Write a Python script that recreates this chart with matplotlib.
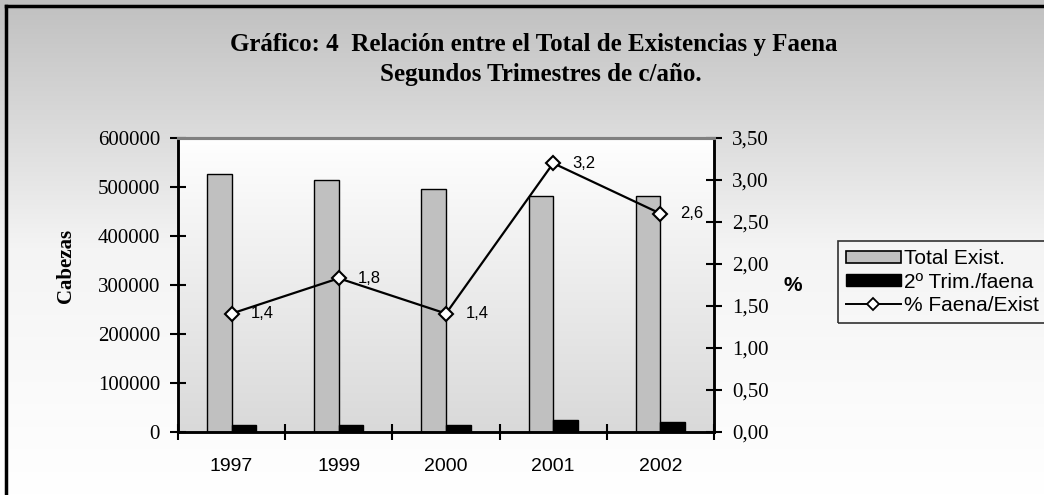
import numpy as np
import matplotlib.pyplot as plt
from matplotlib.lines import Line2D
from matplotlib.patches import Patch
from matplotlib.colors import LinearSegmentedColormap

years = ['1997', '1999', '2000', '2001', '2002']
total_exist = [527000, 515000, 495000, 481000, 482000]
trim_faena = [15000, 15000, 15000, 24000, 20000]
pct_faena = [1.41, 1.83, 1.41, 3.20, 2.60]

serif = 'Liberation Serif'
sans = 'Liberation Sans'

fig = plt.figure(figsize=(10.44, 4.95), dpi=100)

# figure background: gray at top fading to white
bg = fig.add_axes([0, 0, 1, 1], zorder=-10)
grad = np.linspace(0, 1, 256).reshape(-1, 1)
bg.imshow(grad, cmap=LinearSegmentedColormap.from_list('g', ['#c0c0c0', '#f4f4f4', '#ffffff']),
          aspect='auto', extent=[0, 1, 0, 1], origin='upper')
bg.axis('off')

# outer border (cut at right and bottom like the original)
fig.add_artist(Line2D([6 / 1044, 1.0], [1 - 5.5 / 495, 1 - 5.5 / 495], color='black', lw=2.5))
fig.add_artist(Line2D([6 / 1044, 6 / 1044], [1 - 5.5 / 495, 1 - 493 / 495], color='black', lw=2.5))

ax = fig.add_axes([178 / 1044, 1 - 432 / 495, (714 - 178) / 1044, (432 - 138) / 495])
ax.patch.set_alpha(0)
ax.imshow(grad, cmap=LinearSegmentedColormap.from_list('p', ['#ffffff', '#d9d9d9']),
          aspect='auto', extent=[0, 1, 0, 1], origin='upper', transform=ax.transAxes, zorder=0)

x = np.arange(len(years))
w = 0.23
ax.bar(x - w / 2, total_exist, w, color='#c0c0c0', edgecolor='black', lw=1, zorder=2)
ax.bar(x + w / 2, trim_faena, w, color='black', edgecolor='black', lw=1, zorder=2)
ax.set_xlim(-0.5, len(years) - 0.5)
ax.set_ylim(0, 600000)
ax.set_yticks(range(0, 600001, 100000))
ax.set_yticklabels([str(v) for v in range(0, 600001, 100000)], fontfamily=serif, fontsize=15)
ax.set_xticks(np.arange(-0.5, len(years), 1))
ax.set_xticklabels([])
ax.set_xticks(x, minor=True)
ax.set_xticklabels(years, minor=True, fontfamily=sans, fontsize=14)
ax.tick_params(axis='x', which='minor', length=0, pad=19)
ax.tick_params(axis='x', which='major', direction='inout', length=12, width=1.5)
ax.tick_params(axis='y', direction='inout', length=12, width=1.5, pad=7)
ax.set_ylabel('Cabezas', fontfamily=serif, fontsize=15, fontweight='bold')
ax.yaxis.set_label_coords(-0.19, 0.565)

for s in ['left', 'bottom', 'right']:
    ax.spines[s].set_linewidth(1.8)
ax.spines['top'].set_color('#808080')
ax.spines['top'].set_linewidth(2.2)

ax2 = ax.twinx()
ax2.plot(x, pct_faena, color='black', lw=1.6, marker='D', ms=7, mfc='white', mec='black', mew=1.5, zorder=5)
for xi, v in zip(x, pct_faena):
    ax2.annotate(f'{v:.1f}'.replace('.', ','), (xi, v), xytext=(14, 0), textcoords='offset points',
                 va='center', ha='left', fontfamily=sans, fontsize=12)
ax2.set_ylim(0, 3.5)
ax2.set_yticks(np.arange(0, 3.51, 0.5))
ax2.set_yticklabels([f'{v:.2f}'.replace('.', ',') for v in np.arange(0, 3.51, 0.5)],
                    fontfamily=serif, fontsize=15)
ax2.tick_params(axis='y', direction='inout', length=12, width=1.5, pad=7)
ax2.set_ylabel('%', fontfamily=sans, fontsize=15, fontweight='bold', rotation=0, va='center', ha='center')
ax2.yaxis.set_label_coords(1.147, 0.497)
for s in ['left', 'bottom', 'right']:
    ax2.spines[s].set_linewidth(1.8)
ax2.spines['top'].set_color('#808080')
ax2.spines['top'].set_linewidth(2.2)

fig.text(0.511, 1 - 45 / 495, 'Gráfico: 4  Relación entre el Total de Existencias y Faena',
         ha='center', va='center', fontfamily=serif, fontsize=18, fontweight='bold')
fig.text(0.518, 1 - 74 / 495, 'Segundos Trimestres de c/año.',
         ha='center', va='center', fontfamily=serif, fontsize=18, fontweight='bold')

handles = [Patch(facecolor='#c0c0c0', edgecolor='black', lw=1.2),
           Patch(facecolor='black', edgecolor='black'),
           Line2D([], [], color='black', lw=1.4, marker='D', ms=6, mfc='white', mec='black', mew=1.3)]
leg = fig.legend(handles, ['Total Exist.', '2º Trim./faena', '% Faena/Exist'],
                 loc='upper left', bbox_to_anchor=(838 / 1044, 1 - 241 / 495),
                 prop={'family': sans, 'size': 15}, frameon=True, fancybox=False,
                 handlelength=2.6, handleheight=0.5, handletextpad=0.15, labelspacing=0.2,
                 borderpad=0.4, borderaxespad=0)
leg.get_frame().set_edgecolor('black')
leg.get_frame().set_linewidth(1.2)
leg.get_frame().set_facecolor('none')

fig.savefig('out.png', dpi=100)
